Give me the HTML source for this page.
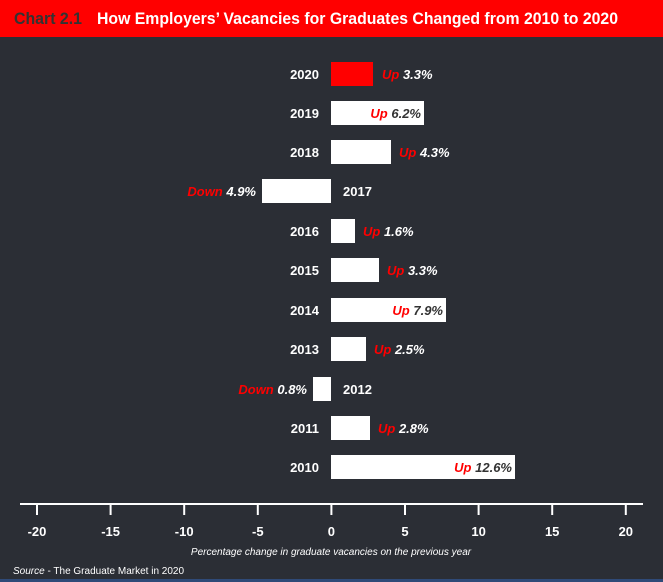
<!DOCTYPE html>
<html><head><meta charset="utf-8"><style>
html,body{margin:0;padding:0;background:#2b2e35;}
svg{display:block;font-family:"Liberation Sans",sans-serif;}
</style></head><body>
<svg width="663" height="582" viewBox="0 0 663 582" xmlns="http://www.w3.org/2000/svg">
<rect width="663" height="582" fill="#2b2e35"/>
<rect width="663" height="37" fill="#ff0000"/>
<text x="14" y="24" font-size="17" font-weight="bold" fill="#333" textLength="68" lengthAdjust="spacingAndGlyphs">Chart 2.1</text>
<text x="97" y="24" font-size="17" font-weight="bold" fill="#fff" textLength="521" lengthAdjust="spacingAndGlyphs">How Employers’ Vacancies for Graduates Changed from 2010 to 2020</text>
<g font-size="13" font-weight="bold">
<rect x="331" y="62" width="42" height="24" fill="#ff0000"/>
<text x="319" y="79" text-anchor="end" fill="#fff">2020</text>
<text x="382" y="79" font-style="italic"><tspan fill="#ff0000">Up</tspan><tspan fill="#fff"> 3.3%</tspan></text>
<rect x="331" y="101" width="93" height="24" fill="#fff"/>
<text x="319" y="118" text-anchor="end" fill="#fff">2019</text>
<text x="421" y="118" text-anchor="end" font-style="italic"><tspan fill="#ff0000">Up</tspan><tspan fill="#333"> 6.2%</tspan></text>
<rect x="331" y="140" width="60" height="24" fill="#fff"/>
<text x="319" y="157" text-anchor="end" fill="#fff">2018</text>
<text x="399" y="157" font-style="italic"><tspan fill="#ff0000">Up</tspan><tspan fill="#fff"> 4.3%</tspan></text>
<rect x="262" y="179" width="69" height="24" fill="#fff"/>
<text x="343" y="196" fill="#fff">2017</text>
<text x="256" y="196" text-anchor="end" font-style="italic"><tspan fill="#ff0000">Down</tspan><tspan fill="#fff"> 4.9%</tspan></text>
<rect x="331" y="219" width="24" height="24" fill="#fff"/>
<text x="319" y="236" text-anchor="end" fill="#fff">2016</text>
<text x="363" y="236" font-style="italic"><tspan fill="#ff0000">Up</tspan><tspan fill="#fff"> 1.6%</tspan></text>
<rect x="331" y="258" width="48" height="24" fill="#fff"/>
<text x="319" y="275" text-anchor="end" fill="#fff">2015</text>
<text x="387" y="275" font-style="italic"><tspan fill="#ff0000">Up</tspan><tspan fill="#fff"> 3.3%</tspan></text>
<rect x="331" y="298" width="115" height="24" fill="#fff"/>
<text x="319" y="315" text-anchor="end" fill="#fff">2014</text>
<text x="443" y="315" text-anchor="end" font-style="italic"><tspan fill="#ff0000">Up</tspan><tspan fill="#333"> 7.9%</tspan></text>
<rect x="331" y="337" width="35" height="24" fill="#fff"/>
<text x="319" y="354" text-anchor="end" fill="#fff">2013</text>
<text x="374" y="354" font-style="italic"><tspan fill="#ff0000">Up</tspan><tspan fill="#fff"> 2.5%</tspan></text>
<rect x="313" y="377" width="18" height="24" fill="#fff"/>
<text x="343" y="394" fill="#fff">2012</text>
<text x="307" y="394" text-anchor="end" font-style="italic"><tspan fill="#ff0000">Down</tspan><tspan fill="#fff"> 0.8%</tspan></text>
<rect x="331" y="416" width="39" height="24" fill="#fff"/>
<text x="319" y="433" text-anchor="end" fill="#fff">2011</text>
<text x="378" y="433" font-style="italic"><tspan fill="#ff0000">Up</tspan><tspan fill="#fff"> 2.8%</tspan></text>
<rect x="331" y="455" width="184" height="24" fill="#fff"/>
<text x="319" y="472" text-anchor="end" fill="#fff">2010</text>
<text x="512" y="472" text-anchor="end" font-style="italic"><tspan fill="#ff0000">Up</tspan><tspan fill="#333"> 12.6%</tspan></text>
</g>
<line x1="20" y1="504" x2="643" y2="504" stroke="#fff" stroke-width="2"/>
<g stroke="#fff" stroke-width="2">
<line x1="37" y1="504" x2="37" y2="515"/><line x1="110.6" y1="504" x2="110.6" y2="515"/><line x1="184.2" y1="504" x2="184.2" y2="515"/><line x1="257.8" y1="504" x2="257.8" y2="515"/><line x1="331.4" y1="504" x2="331.4" y2="515"/><line x1="405" y1="504" x2="405" y2="515"/><line x1="478.6" y1="504" x2="478.6" y2="515"/><line x1="552.2" y1="504" x2="552.2" y2="515"/><line x1="625.8" y1="504" x2="625.8" y2="515"/>
</g>
<g font-size="13" font-weight="bold" fill="#fff" text-anchor="middle">
<text x="37" y="536">-20</text><text x="110.6" y="536">-15</text><text x="184.2" y="536">-10</text><text x="257.8" y="536">-5</text><text x="331.4" y="536">0</text><text x="405" y="536">5</text><text x="478.6" y="536">10</text><text x="552.2" y="536">15</text><text x="625.8" y="536">20</text>
</g>
<text x="331" y="555" text-anchor="middle" font-size="10" font-style="italic" fill="#fff">Percentage change in graduate vacancies on the previous year</text>
<text x="13" y="574" font-size="10" fill="#fff"><tspan font-style="italic">Source</tspan> - The Graduate Market in 2020</text>
<rect x="0" y="579" width="663" height="3" fill="#2f4a78"/>
</svg>
</body></html>
